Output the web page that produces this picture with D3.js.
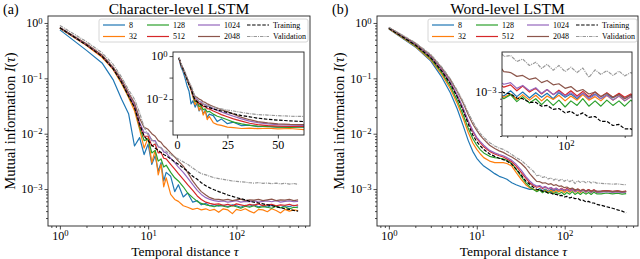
<!DOCTYPE html>
<html>
<head>
<meta charset="utf-8">
<script src="https://cdn.jsdelivr.net/npm/d3@7"></script>
<style>
body{margin:0;background:#fff}
svg{font-family:"Liberation Serif","DejaVu Serif",serif}
</style>
</head>
<body>
<script>
// mutual information I(tau)

var sizes = ["8", "32", "128", "512", "1024", "2048"];
var colors = ["#1f77b4", "#ff7f0e", "#2ca02c", "#d62728", "#9467bd", "#8c564b"];

// (a) character level
var tauA = [1,2,3,4,5,6,7,8,9,10,11,12,13,14,15,16,
  18,20,22,25,28,32,36,40,45,50,
  56,63,71,80,90,100,112,126,141,158,
  178,200,224,251,282,316,355,398,447,500];

var charBlue = [0.75,0.32,0.19,0.095,0.042,0.023,0.006,0.0085,0.0042,0.0065,0.0028,0.004,0.0021,0.003,0.0014,0.002,
  0.0017,0.0009,0.0012,0.00072,0.00085,0.00058,0.00062,0.00052,0.00055,0.0005,
  0.00052,0.00049,0.00051,0.00048,0.00052,0.0005,0.00047,0.00051,0.00049,0.00052,
  0.00048,0.0005,0.00047,0.00051,0.00049,0.00046,0.0005,0.00048,0.00051,0.00049];
var charOrange = [0.8,0.39,0.24,0.145,0.08,0.045,0.026,0.012,0.0055,0.0085,0.003,0.005,0.0018,0.0028,0.0011,0.0016,
  0.0008,0.00065,0.0006,0.0005,0.00047,0.00043,0.00045,0.00042,0.00044,0.00041,
  0.00043,0.00038,0.00044,0.00042,0.00036,0.00043,0.00041,0.00044,0.0004,0.00037,
  0.00043,0.00042,0.00039,0.00044,0.00041,0.00037,0.00043,0.0004,0.00042,0.00041];
var charGreen = [0.8,0.4,0.25,0.15,0.085,0.047,0.03,0.013,0.0075,0.008,0.0045,0.005,0.0032,0.0035,0.0025,0.0027,
  0.002,0.0016,0.0014,0.0011,0.00085,0.0007,0.0006,0.00055,0.00052,0.0005,
  0.00048,0.00051,0.00049,0.00047,0.0005,0.00048,0.00045,0.00049,0.00047,0.0005,
  0.00046,0.00048,0.00047,0.00045,0.00049,0.00046,0.00048,0.00044,0.00047,0.00046];
var charRed = [0.81,0.4,0.25,0.15,0.087,0.049,0.031,0.014,0.009,0.009,0.006,0.0065,0.0045,0.0046,0.0036,0.0035,
  0.0028,0.0023,0.0019,0.0015,0.0012,0.00095,0.00075,0.00065,0.00058,0.00055,
  0.00053,0.00054,0.00051,0.00053,0.0005,0.00054,0.00052,0.0005,0.00053,0.00051,
  0.00054,0.0005,0.00052,0.00053,0.0005,0.00052,0.00051,0.00053,0.0005,0.00052];
var charPurple = [0.82,0.41,0.26,0.155,0.09,0.052,0.033,0.016,0.0105,0.0102,0.0075,0.0075,0.0058,0.0056,0.0047,0.0045,
  0.0036,0.003,0.0025,0.002,0.0016,0.0012,0.00095,0.0008,0.0007,0.00065,
  0.00062,0.0006,0.00061,0.00058,0.0006,0.00062,0.00058,0.0006,0.00059,0.00062,
  0.00058,0.0006,0.00061,0.00059,0.00062,0.00058,0.0006,0.00061,0.00059,0.0006];
var charBrown = [0.83,0.42,0.265,0.16,0.095,0.055,0.036,0.019,0.013,0.012,0.01,0.009,0.0075,0.007,0.006,0.0055,
  0.0045,0.0038,0.0032,0.0026,0.002,0.0014,0.0011,0.0009,0.00078,0.0007,
  0.00066,0.00065,0.00063,0.00065,0.00062,0.00064,0.00066,0.00062,0.00064,0.00063,
  0.00065,0.00062,0.00064,0.00066,0.00062,0.00064,0.00063,0.00065,0.00062,0.00064];
var charTrain = [0.82,0.4,0.25,0.15,0.085,0.048,0.03,0.015,0.009,0.0075,0.0062,0.0055,0.005,0.0046,0.0042,0.004,
  0.0035,0.0031,0.0028,0.0024,0.0021,0.0017,0.0015,0.0013,0.00115,0.00105,
  0.00097,0.0009,0.00084,0.00078,0.00074,0.0007,0.00067,0.00064,0.0006,0.00058,
  0.00056,0.00054,0.00052,0.0005,0.00048,0.00046,0.00044,0.00043,0.00041,0.0004];
var charVal = [0.9,0.46,0.29,0.18,0.105,0.062,0.042,0.024,0.013,0.0095,0.0078,0.0068,0.006,0.0055,0.0051,0.0048,
  0.0042,0.0038,0.0035,0.0031,0.0028,0.0024,0.0021,0.0019,0.0018,0.0017,
  0.0016,0.00155,0.0015,0.00145,0.0014,0.00138,0.00135,0.00133,0.0013,0.00128,
  0.00131,0.00127,0.00129,0.00125,0.00128,0.00124,0.00127,0.00123,0.00126,0.00122];

// (b) word level
var tauB = [1,2,3,4,5,6,7,8,9,10,11,12,
  14,16,18,20,22,25,28,32,36,40,
  44,48,52,56,60,65,70,75,80,86,
  92,99,106,114,122,131,141,151,162,174,
  187,200,215,231,260,300,350,400,450,500];

var wordBlue = [0.78,0.37,0.205,0.105,0.055,0.028,0.014,0.0075,0.0048,0.0036,0.003,0.0026,
  0.0022,0.0019,0.0017,0.0016,0.0015,0.0013,0.0012,0.0011,0.00104,0.00099,
  0.00099,0.00094,0.00102,0.00093,0.001,0.00091,0.00099,0.00092,0.00098,0.0009,
  0.00099,0.00092,0.00097,0.0009,0.00098,0.00092,0.00097,0.0009,0.00096,0.00091,
  0.00097,0.0009,0.00096,0.00091,0.00091,0.00093,0.0009,0.00092,0.00089,0.00091];
var wordOrange = [0.79,0.38,0.215,0.118,0.065,0.035,0.019,0.0105,0.0068,0.0052,0.0043,0.0037,
  0.0032,0.003,0.003,0.003,0.0029,0.0026,0.002,0.0015,0.0012,0.00105,
  0.001,0.00092,0.00097,0.00089,0.00096,0.00088,0.00095,0.00087,0.00094,0.00089,
  0.00095,0.00087,0.00094,0.00088,0.00096,0.00088,0.00093,0.00087,0.00095,0.00088,
  0.00094,0.00087,0.00093,0.00089,0.0009,0.00092,0.00089,0.00091,0.00088,0.0009];
var wordGreen = [0.8,0.39,0.225,0.127,0.072,0.04,0.022,0.0125,0.0082,0.0062,0.0051,0.0045,
  0.0039,0.0037,0.0036,0.0035,0.0033,0.0029,0.0023,0.0017,0.0013,0.0011,
  0.00098,0.0009,0.00096,0.00086,0.00093,0.00084,0.0009,0.00082,0.00089,0.00081,
  0.00088,0.00079,0.00087,0.00081,0.0009,0.0008,0.00087,0.0008,0.00088,0.00081,
  0.00087,0.0008,0.00088,0.00082,0.00082,0.00085,0.00082,0.00084,0.00081,0.00083];
var wordRed = [0.81,0.41,0.24,0.14,0.083,0.048,0.028,0.0165,0.011,0.0082,0.0068,0.0058,
  0.0048,0.0043,0.004,0.0038,0.0035,0.0031,0.0026,0.002,0.0016,0.0013,
  0.00116,0.00108,0.00112,0.00102,0.0011,0.001,0.00106,0.00097,0.00104,0.00096,
  0.00103,0.00095,0.00102,0.00094,0.00101,0.00093,0.001,0.00093,0.00099,0.00092,
  0.00098,0.00092,0.00097,0.00091,0.00092,0.00094,0.00091,0.00093,0.0009,0.00092];
var wordPurple = [0.82,0.415,0.245,0.145,0.086,0.05,0.029,0.017,0.0115,0.0086,0.0072,0.0062,
  0.005,0.0045,0.0042,0.004,0.0037,0.0033,0.0028,0.0022,0.0017,0.0014,
  0.00122,0.00113,0.00116,0.00106,0.00111,0.00102,0.00107,0.00098,0.00104,0.00096,
  0.00101,0.00094,0.00099,0.00092,0.00098,0.0009,0.00096,0.0009,0.00095,0.00088,
  0.00094,0.00087,0.00093,0.00087,0.00088,0.0009,0.00087,0.00089,0.00086,0.00088];
var wordBrown = [0.83,0.43,0.26,0.155,0.095,0.058,0.036,0.022,0.015,0.0115,0.0092,0.0079,
  0.0062,0.0054,0.0049,0.0046,0.0042,0.0038,0.0034,0.0029,0.0024,0.0019,
  0.0016,0.00138,0.00136,0.00128,0.0013,0.00122,0.00125,0.00116,0.0012,0.00112,
  0.00114,0.00106,0.00109,0.00101,0.00104,0.00097,0.001,0.00093,0.00098,0.00092,
  0.00096,0.0009,0.00095,0.00089,0.00091,0.00093,0.0009,0.00092,0.00089,0.00091];
var wordTrain = [0.8,0.4,0.235,0.135,0.08,0.046,0.026,0.015,0.0095,0.0072,0.006,0.0052,
  0.0043,0.0039,0.0036,0.0034,0.0032,0.0028,0.0023,0.0018,0.0014,0.00122,
  0.00108,0.00099,0.00097,0.00091,0.0009,0.00085,0.00085,0.0008,0.00081,0.00076,
  0.00077,0.00072,0.00074,0.00069,0.00072,0.00067,0.00068,0.00063,0.00063,0.00059,
  0.0006,0.00056,0.00056,0.00053,0.00051,0.00048,0.00045,0.00042,0.0004,0.00037];
var wordVal = [0.84,0.44,0.27,0.16,0.098,0.06,0.038,0.024,0.0165,0.0125,0.01,0.0086,
  0.0069,0.006,0.0055,0.0052,0.0048,0.0042,0.0037,0.0033,0.0028,0.0024,
  0.0021,0.00175,0.00178,0.00162,0.00168,0.00152,0.0016,0.00145,0.00155,0.00141,
  0.00152,0.00138,0.00148,0.00136,0.00146,0.00126,0.00142,0.00132,0.0014,0.0013,
  0.00139,0.00129,0.00136,0.00128,0.00127,0.00125,0.00123,0.00124,0.00121,0.0012];

var xTicks = [1, 10, 100];
var yTicks = [1, 0.1, 0.01, 0.001];

function makeSeries(tau, cols, train, val){
  var out = [];
  cols.forEach(function(v, i){
    out.push({name: sizes[i], color: colors[i], dash: null, pts: tau.map(function(t, j){ return [t, v[j]]; })});
  });
  out.push({name: "Training", color: "#000", dash: "3.5,1.6", pts: tau.map(function(t, j){ return [t, train[j]]; })});
  out.push({name: "Validation", color: "#999", dash: "3.5,1,1,1", pts: tau.map(function(t, j){ return [t, val[j]]; })});
  return out;
}

var panels = [
  {letter: "(a)", title: "Character-level LSTM", l: 48, r: 310, t: 16, b: 226, legX: 99,
    series: makeSeries(tauA, [charBlue, charOrange, charGreen, charRed, charPurple, charBrown], charTrain, charVal),
    inset: {l: 173, r: 304, t: 52, b: 135, xlog: false, xdom: [-1.95, 62.95], ydom: [Math.pow(10, -3.67), Math.pow(10, 0.19)],
      xMaj: [0, 25, 50], xMin: [], xLab: [0, 25, 50], yMaj: [1, 0.1, 0.01, 0.001], yMin: [], yLab: [1, 0.01]}},
  {letter: "(b)", title: "Word-level LSTM", l: 377, r: 638, t: 16, b: 226, legX: 428,
    series: makeSeries(tauB, [wordBlue, wordOrange, wordGreen, wordRed, wordPurple, wordBrown], wordTrain, wordVal),
    inset: {l: 502, r: 632, t: 52, b: 136, xlog: true, xdom: [47, 218], ydom: [0.0005, 0.00188],
      xMaj: [100], xMin: [50, 60, 70, 80, 90, 200], xLab: [100], yMaj: [0.001], yMin: [0.0005, 0.0006, 0.0007, 0.0008, 0.0009], yLab: [0.001]}}
];

var svg = d3.select("body").append("svg").attr("width", 640).attr("height", 259);

function logMinors(dom){
  var out = [];
  for (var d = -5; d <= 3; d++) for (var k = 2; k < 10; k++){
    var v = k * Math.pow(10, d);
    if (v >= dom[0] && v <= dom[1]) out.push(v);
  }
  return out;
}

// 10^n labels with a raised exponent
function powText(t, d){
  var e = Math.round(Math.log10(d));
  t.text("");
  t.append("tspan").text("10");
  t.append("tspan").attr("dy", "-0.42em").attr("font-size", "0.72em").text(e < 0 ? "\u2212" + (-e) : e);
}

function axis(parent, gen, scale, majors, minors, labels, isLog, pos, fs){
  var g = parent.append("g").attr("transform", pos);
  if (minors.length){
    g.append("g").call(gen(scale).tickValues(minors).tickSize(2).tickSizeOuter(0).tickFormat(""));
  }
  var m = g.append("g").call(gen(scale).tickValues(majors).tickSize(3.5).tickSizeOuter(0).tickPadding(2).tickFormat(""));
  g.selectAll(".domain").remove();
  g.selectAll("g").attr("font-family", null).attr("font-size", fs);
  g.selectAll("line").attr("stroke", "#222").attr("stroke-width", 0.8);
  m.selectAll(".tick text").each(function(d){
    var t = d3.select(this);
    if (labels.indexOf(d) < 0) { t.text(""); return; }
    if (isLog) powText(t, d); else t.text(d);
  });
  return g;
}

function drawLines(g, series, x, y){
  var line = d3.line().x(function(d){ return x(d[0]); }).y(function(d){ return y(d[1]); });
  series.forEach(function(s){
    g.append("path").attr("d", line(s.pts)).attr("fill", "none")
      .attr("stroke", s.color).attr("stroke-width", 1.2)
      .attr("stroke-dasharray", s.dash).attr("stroke-linejoin", "round");
  });
}

panels.forEach(function(p, pi){
  var x = d3.scaleLog().domain([0.733, 682]).range([p.l, p.r]);
  var y = d3.scaleLog().domain([Math.pow(10, -3.667), Math.pow(10, 0.126)]).range([p.b, p.t]);

  svg.append("clipPath").attr("id", "clip" + pi).append("rect")
    .attr("x", p.l).attr("y", p.t).attr("width", p.r - p.l).attr("height", p.b - p.t);
  drawLines(svg.append("g").attr("clip-path", "url(#clip" + pi + ")"), p.series, x, y);

  svg.append("rect").attr("x", p.l).attr("y", p.t).attr("width", p.r - p.l).attr("height", p.b - p.t)
    .attr("fill", "none").attr("stroke", "#222").attr("stroke-width", 0.9);

  axis(svg, d3.axisBottom, x, xTicks, logMinors(x.domain()), xTicks, true, "translate(0," + p.b + ")", 12);
  axis(svg, d3.axisLeft, y, yTicks, logMinors(y.domain()), yTicks, true, "translate(" + p.l + ",0)", 12);

  // inset
  var q = p.inset;
  var ix = (q.xlog ? d3.scaleLog() : d3.scaleLinear()).domain(q.xdom).range([q.l, q.r]);
  var iy = d3.scaleLog().domain(q.ydom).range([q.b, q.t]);
  svg.append("rect").attr("x", q.l).attr("y", q.t).attr("width", q.r - q.l).attr("height", q.b - q.t).attr("fill", "#fff");
  svg.append("clipPath").attr("id", "iclip" + pi).append("rect")
    .attr("x", q.l).attr("y", q.t).attr("width", q.r - q.l).attr("height", q.b - q.t);
  drawLines(svg.append("g").attr("clip-path", "url(#iclip" + pi + ")"), p.series, ix, iy);
  svg.append("rect").attr("x", q.l).attr("y", q.t).attr("width", q.r - q.l).attr("height", q.b - q.t)
    .attr("fill", "none").attr("stroke", "#222").attr("stroke-width", 0.9);
  axis(svg, d3.axisBottom, ix, q.xMaj, q.xMin, q.xLab, q.xlog, "translate(0," + q.b + ")", 12);
  axis(svg, d3.axisLeft, iy, q.yMaj, q.yMin, q.yLab, true, "translate(" + q.l + ",0)", 12);

  // legend
  var lg = svg.append("g").attr("transform", "translate(" + p.legX + ",19)");
  lg.append("rect").attr("width", 209).attr("height", 23).attr("rx", 2)
    .attr("fill", "#fff").attr("fill-opacity", 0.85).attr("stroke", "#ccc").attr("stroke-width", 0.8);
  var colX = [4, 48, 99, 148];
  p.series.forEach(function(s, i){
    var cx = colX[Math.floor(i / 2)], cy = i % 2 ? 17.5 : 6;
    lg.append("line").attr("x1", cx).attr("x2", cx + 22).attr("y1", cy).attr("y2", cy)
      .attr("stroke", s.color).attr("stroke-width", 1.2).attr("stroke-dasharray", s.dash);
    lg.append("text").attr("x", cx + 26).attr("y", cy + 2.7).attr("font-size", 8).text(s.name);
  });

  // titles and labels
  svg.append("text").attr("x", (p.l + p.r) / 2).attr("y", 13.8).attr("text-anchor", "middle")
    .attr("font-size", 15.5).text(p.title);
  svg.append("text").attr("x", p.l - 45).attr("y", 14).attr("font-size", 14).text(p.letter);

  var xl = svg.append("text").attr("x", (p.l + p.r) / 2 + 6).attr("y", 255.8).attr("text-anchor", "middle").attr("font-size", 13.5);
  xl.append("tspan").text("Temporal distance ");
  xl.append("tspan").attr("font-style", "italic").text("\u03c4");

  var yl = svg.append("text").attr("transform", "translate(" + (p.l - 33) + "," + ((p.t + p.b) / 2) + ") rotate(-90)")
    .attr("text-anchor", "middle").attr("font-size", 14.5);
  yl.append("tspan").text("Mutual information ");
  yl.append("tspan").attr("font-style", "italic").text("I");
  yl.append("tspan").text("(");
  yl.append("tspan").attr("font-style", "italic").text("\u03c4");
  yl.append("tspan").text(")");
});
</script>
</body>
</html>
